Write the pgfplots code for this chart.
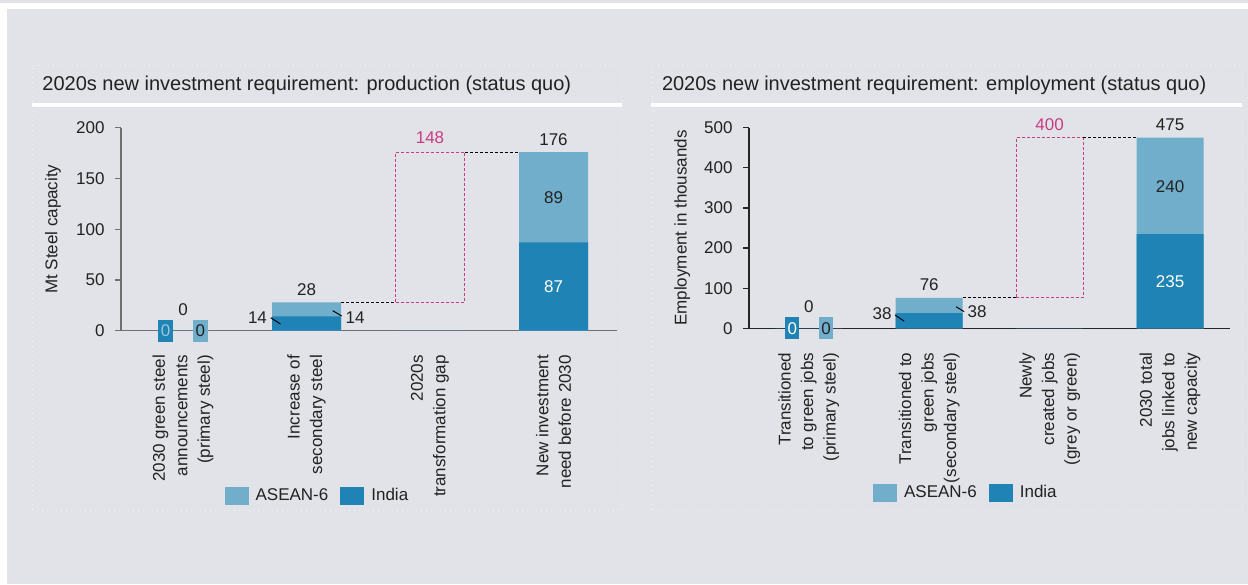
\documentclass[border=0pt]{standalone}
\usepackage{fontspec}
\setmainfont{Liberation Sans}
\usepackage{pgfplots}
\pgfplotsset{compat=1.18}
\usepackage{pgfplotstable}
\definecolor{bg}{HTML}{E2E3E8}
\definecolor{indiaC}{HTML}{1F83B5}
\definecolor{aseanC}{HTML}{70AECB}
\definecolor{magC}{HTML}{C83C82}
\definecolor{txt}{HTML}{222222}
\definecolor{axL}{HTML}{707070}

\pgfplotstableread{
x India ASEAN
0 0 0
1 14 14
2 0 0
3 87 89
}\prodData
\pgfplotstableread{
x India ASEAN
0 0 0
1 38 38
2 0 0
3 235 240
}\empData

\tikzset{
 lab/.style={font=\fontsize{8.5}{10}\selectfont, text=txt, inner sep=0pt},
 zbox/.style={font=\fontsize{8.5}{10}\selectfont, inner sep=0pt, minimum width=7.5pt, minimum height=11pt},
}
\pgfplotsset{
 legbox/.style={legend image code/.code={\fill[##1] (0pt,-4.5pt) rectangle (12pt,4.5pt);}},
 common/.style={
  scale only axis, clip=false,
  axis lines=left, axis line style={-, line width=0.6pt},
  tick align=outside, major tick length=3pt,
  xtick={0,1,2,3}, xtick style={draw=none},
  ytick style={line width=0.6pt},
  tick label style={font=\fontsize{8.5}{11.25}\selectfont, text=txt},
  /pgf/number format/assume math mode=true,
  xticklabel style={rotate=90, anchor=east, align=right, inner sep=0pt},
  xticklabel shift=9pt,
  yticklabel style={inner sep=0pt, xshift=-5pt},
  ylabel style={at={(axis description cs:-0.137,0.5)}, anchor=center, font=\fontsize{8.5}{10}\selectfont, text=txt},
  legend style={draw=none, fill=none, legend columns=2, font=\fontsize{8.5}{10}\selectfont, text=txt, anchor=center,
    /tikz/every odd column/.append style={column sep=1.5pt},
    /tikz/every even column/.append style={column sep=4pt}},
 },
}

\begin{document}
\begin{tikzpicture}
\fill[white] (0,0) rectangle (624pt,292pt);
\fill[bg] (3.5pt,0) rectangle (624pt,287.35pt);
\fill[bg] (0,290.65pt) rectangle (624pt,292pt);
\draw[white!45!bg, dotted, line width=0.4pt] (16pt,37pt) rectangle (311pt,259.5pt);
\draw[white!45!bg, dotted, line width=0.4pt] (326pt,37pt) rectangle (621pt,259.5pt);
\fill[white] (16pt,238.35pt) rectangle (311pt,240.65pt);
\fill[white] (325.5pt,238.35pt) rectangle (621pt,240.65pt);
\node[anchor=base west, inner sep=0pt, font=\fontsize{10}{11}\selectfont, text=txt] at (21pt,246.65pt) {2020s new investment requirement: production (status quo)};
\node[anchor=base west, inner sep=0pt, font=\fontsize{10}{11}\selectfont, text=txt] at (330.8pt,246.65pt) {2020s new investment requirement: employment (status quo)};

% ---------- left: production ----------
\begin{axis}[common, at={(60.5pt,126.65pt)}, anchor=south west,
  width=248pt, height=101.5pt,
  xmin=-0.502, xmax=3.514, ymin=0, ymax=200,
  ytick={0,50,100,150,200},
  axis line style={draw=axL}, ytick style={draw=axL},
  xticklabels={{2030 green steel\\announcements\\(primary steel)},{Increase of\\secondary steel},{2020s\\transformation gap},{New investment\\need before 2030}},
  ylabel={Mt Steel capacity},
  legend style={at={(0.398,-0.814)}},
]
\addplot[ybar, legbox, bar width=34.5pt, bar shift=0pt, fill=aseanC, draw=none] table[x=x, y expr=\thisrow{India}+\thisrow{ASEAN}] {\prodData};
\addlegendentry{ASEAN-6}
\addplot[ybar, legbox, bar width=34.5pt, bar shift=0pt, fill=indiaC, draw=none] table[x=x, y=India] {\prodData};
\addlegendentry{India}
\addplot[forget plot, magC, dash pattern=on 1.5pt off 1pt, line width=0.5pt] coordinates {(1.7206,28) (2.2794,28) (2.2794,176) (1.7206,176) (1.7206,28)};
\addplot[forget plot, black, dash pattern=on 1.5pt off 1pt, line width=0.45pt] coordinates {(1.2794,28) (1.7206,28)};
\addplot[forget plot, black, dash pattern=on 1.5pt off 1pt, line width=0.45pt] coordinates {(2.2794,176) (2.7206,176)};
\node[lab] at (axis cs:0,20.4) {0};
\node[zbox, fill=indiaC, text=aseanC!70!white] at (axis cs:-0.14,0) {0};
\node[zbox, fill=aseanC, text=txt] at (axis cs:0.14,0) {0};
\node[lab] at (axis cs:1,40) {28};
\node[lab] at (axis cs:0.603,13) {14};
\draw[black, line width=0.5pt] (axis cs:0.710,12.8) -- (axis cs:0.789,6.6);
\node[lab] at (axis cs:1.393,13) {14};
\draw[black, line width=0.5pt] (axis cs:1.212,19.7) -- (axis cs:1.285,14.5);
\node[lab, text=magC] at (axis cs:2,189.9) {148};
\node[lab] at (axis cs:3,188.5) {176};
\node[lab] at (axis cs:3,131.5) {89};
\node[lab, text=white] at (axis cs:3,43.5) {87};
\end{axis}

% ---------- right: employment ----------
\begin{axis}[common, at={(374.5pt,127.85pt)}, anchor=south west,
  width=240.5pt, height=100.3pt,
  xmin=-0.497, xmax=3.498, ymin=0, ymax=500,
  ytick={0,100,200,300,400,500},
  axis line style={draw=black!85}, ytick style={draw=black!85},
  xticklabels={{Transitioned\\to green jobs\\(primary steel)},{Transitioned to\\green jobs\\(secondary steel)},{Newly\\created jobs\\(grey or green)},{2030 total\\jobs linked to\\new capacity}},
  ylabel={Employment in thousands},
  ylabel style={at={(axis description cs:-0.139,0.5)}},
  legend style={at={(0.453,-0.819)}},
]
\addplot[ybar, legbox, bar width=33.5pt, bar shift=0pt, fill=aseanC, draw=none] table[x=x, y expr=\thisrow{India}+\thisrow{ASEAN}] {\empData};
\addlegendentry{ASEAN-6}
\addplot[ybar, legbox, bar width=33.5pt, bar shift=0pt, fill=indiaC, draw=none] table[x=x, y=India] {\empData};
\addlegendentry{India}
\addplot[forget plot, magC, dash pattern=on 1.5pt off 1pt, line width=0.5pt] coordinates {(1.7218,76) (2.2782,76) (2.2782,475) (1.7218,475) (1.7218,76)};
\addplot[forget plot, black, dash pattern=on 1.5pt off 1pt, line width=0.45pt] coordinates {(1.2782,76) (1.7218,76)};
\addplot[forget plot, black, dash pattern=on 1.5pt off 1pt, line width=0.45pt] coordinates {(2.2782,475) (2.7218,475)};
\node[lab] at (axis cs:0,53) {0};
\node[zbox, minimum width=7pt, fill=indiaC, text=white] at (axis cs:-0.137,0) {0};
\node[zbox, minimum width=7pt, fill=aseanC, text=txt] at (axis cs:0.143,0) {0};
\node[lab] at (axis cs:1,108) {76};
\node[lab] at (axis cs:0.608,35.6) {38};
\draw[black, line width=0.5pt] (axis cs:0.716,33.2) -- (axis cs:0.791,18.2);
\node[lab] at (axis cs:1.397,40.6) {38};
\draw[black, line width=0.5pt] (axis cs:1.223,53.8) -- (axis cs:1.290,41.4);
\node[lab, text=magC] at (axis cs:2,508.5) {400};
\node[lab] at (axis cs:3,506.7) {475};
\node[lab] at (axis cs:3,353) {240};
\node[lab, text=white] at (axis cs:3,116) {235};
\end{axis}
\end{tikzpicture}
\end{document}
